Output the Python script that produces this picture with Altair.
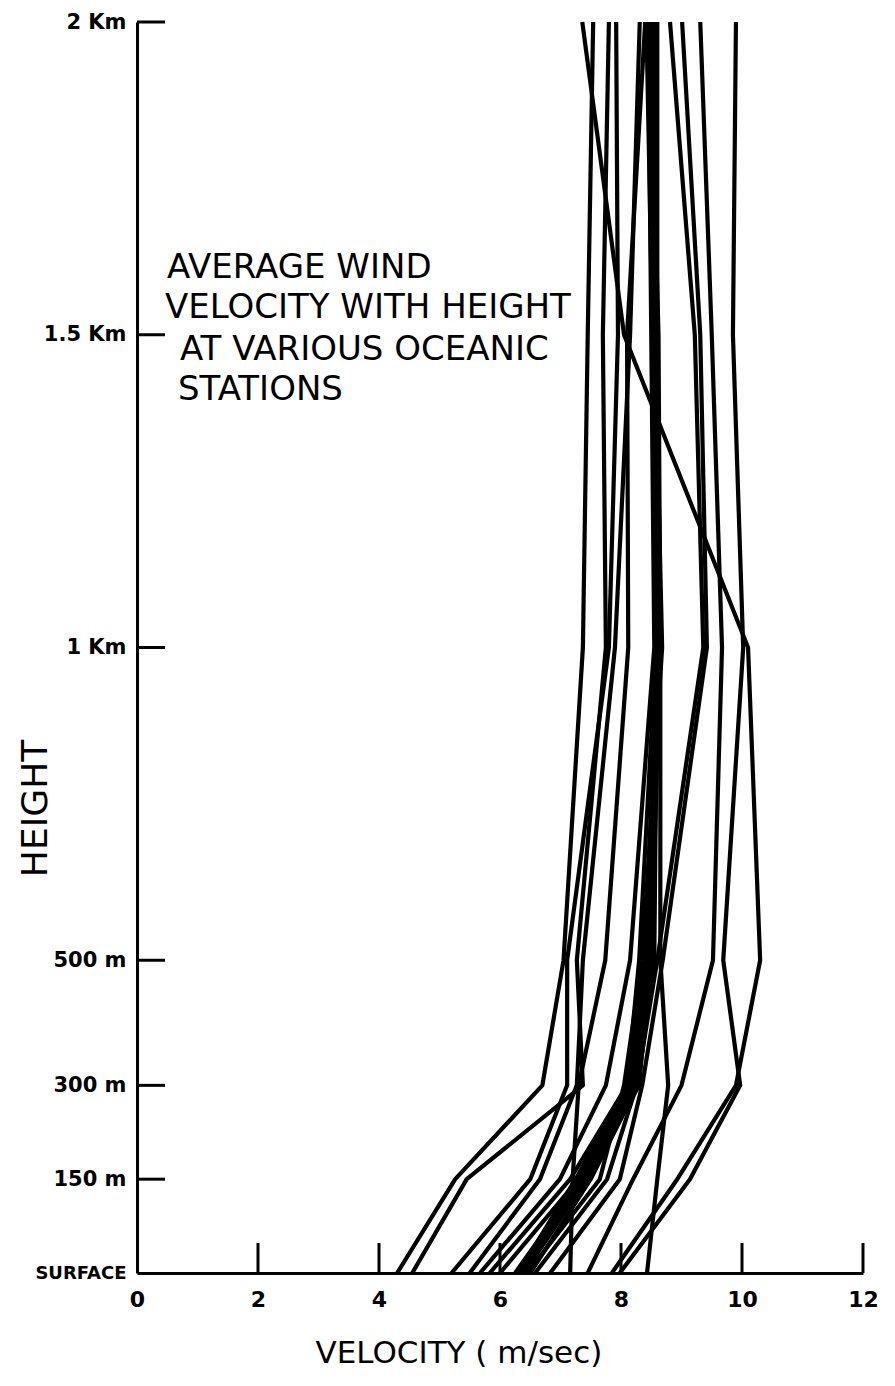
import altair as alt
import pandas as pd

# ---- data ----
heights = [0, 150, 300, 500, 1000, 1500, 2000]
height_labels = ["SURFACE", "150 m", "300 m", "500 m", "1 Km", "1.5 Km", "2 Km"]
velocity_ticks = [0, 2, 4, 6, 8, 10, 12]

# velocity (m/s) at heights 0,150,300,500,1000,1500,2000 m for each station
st01 = [4.30, 5.26, 6.70, 7.05, 7.37, 7.45, 7.54]
st02 = [4.55, 5.45, 7.37, 7.27, 7.75, 7.70, 7.80]
st03 = [5.20, 6.50, 7.11, 7.11, 7.80, 7.95, 7.92]
st04 = [5.50, 6.66, 7.27, 7.37, 7.90, 8.15, 8.31]
st05 = [7.16, 7.20, 7.30, 7.74, 8.12, 8.10, 8.40]
st06 = [5.67, 6.99, 7.75, 8.15, 8.55, 8.50, 8.45]
st07 = [5.83, 7.16, 8.10, 8.30, 8.58, 8.55, 8.50]
st08 = [6.00, 7.30, 8.15, 8.40, 8.60, 8.58, 8.55]
st09 = [6.25, 7.35, 8.20, 8.45, 8.62, 8.60, 8.60]
st10 = [6.33, 7.40, 8.25, 8.50, 8.65, 8.62, 8.48]
st11 = [6.40, 7.44, 8.30, 8.48, 8.58, 8.52, 8.42]
st12 = [6.45, 7.65, 8.05, 8.35, 8.68, 8.56, 8.52]
st13 = [6.58, 7.77, 8.26, 8.60, 9.36, 9.22, 8.81]
st14 = [6.83, 7.98, 8.35, 8.69, 9.42, 9.31, 9.01]
st15 = [8.43, 8.60, 8.78, 8.65, 8.65, 8.60, 8.55]
st16 = [7.85, 8.93, 9.90, 10.30, 10.10, 8.05, 7.36]
st17 = [7.98, 9.14, 9.97, 9.69, 10.02, 9.85, 9.90]
st18 = [7.45, 8.20, 9.00, 9.52, 9.67, 9.50, 9.31]
st19 = [6.30, 7.25, 8.10, 8.40, 8.62, 8.58, 8.50]
st20 = [6.50, 7.50, 8.28, 8.55, 8.60, 8.55, 8.45]

stations = [st01, st02, st03, st04, st05, st06, st07, st08, st09, st10,
            st11, st12, st13, st14, st15, st16, st17, st18, st19, st20]

title_lines = ["AVERAGE WIND", "VELOCITY WITH HEIGHT", "AT VARIOUS OCEANIC", "STATIONS"]

rows = []
for i, prof in enumerate(stations):
    for h, v in zip(heights, prof):
        rows.append({"station": f"S{i + 1:02d}", "height": h, "velocity": v})
df = pd.DataFrame(rows)

W, H = 726, 1251
x_scale = alt.Scale(domain=[0, 12], nice=False, zero=False)
y_scale = alt.Scale(domain=[0, 2000], nice=False, zero=False)

label_expr = " : ".join(
    f"datum.value == {h} ? '{lab}'" for h, lab in zip(heights, height_labels)
) + " : ''"

x_axis = alt.Axis(values=velocity_ticks, ticks=False, grid=False,
                  labelFont="DejaVu Sans", labelFontSize=22, labelFontWeight="bold",
                  labelColor="black", labelPadding=16, labelFlush=False,
                  labelOverlap=False, domainColor="black", domainWidth=3,
                  title="VELOCITY ( m/sec)", titleFont="DejaVu Sans",
                  titleFontSize=31, titleFontWeight="normal", titleColor="black",
                  titleX=178, titleY=89, titleAlign="left",
                  titleBaseline="alphabetic", titleAnchor="start")
y_axis = alt.Axis(values=heights, labelExpr=label_expr, ticks=False, grid=False,
                  labelFont="DejaVu Sans", labelFontWeight="bold",
                  labelFontSize={"condition": {"test": "datum.value == 0", "value": 18},
                                 "value": 21},
                  labelColor="black", labelPadding=11, labelFlush=False,
                  labelOverlap=False, domainColor="black", domainWidth=3,
                  title="HEIGHT", titleFont="DejaVu Sans", titleFontSize=36,
                  titleFontWeight="normal", titleColor="black",
                  titleX=-102, titleY=786, titleAngle=-90,
                  titleAlign="center", titleBaseline="middle")

lines = alt.Chart(df).mark_line(color="black", strokeWidth=4.2, strokeJoin="round").encode(
    x=alt.X("velocity:Q", scale=x_scale, axis=x_axis),
    y=alt.Y("height:Q", scale=y_scale, axis=y_axis),
    detail="station:N",
    order="height:Q",
)

ytick_df = pd.DataFrame({"height": heights[1:]})
yticks = alt.Chart(ytick_df).mark_rule(color="black", strokeWidth=3).encode(
    y=alt.Y("height:Q", scale=y_scale, axis=y_axis),
    x=alt.value(0), x2=alt.value(28),
)

xtick_df = pd.DataFrame({"velocity": velocity_ticks[1:]})
xticks = alt.Chart(xtick_df).mark_rule(color="black", strokeWidth=3).encode(
    x=alt.X("velocity:Q", scale=x_scale, axis=x_axis),
    y=alt.value(H), y2=alt.value(H - 30),
)

text_x = [30, 28, 43, 41]
text_y = [246, 286, 328, 368]
texts = []
for t, tx, ty in zip(title_lines, text_x, text_y):
    texts.append(
        alt.Chart(pd.DataFrame({"t": [t]})).mark_text(
            align="left", baseline="middle", font="DejaVu Sans", fontSize=34,
            color="black").encode(text="t:N", x=alt.value(tx), y=alt.value(ty))
    )

chart = alt.layer(lines, yticks, xticks, *texts).properties(
    width=W, height=H,
    autosize=alt.AutoSizeParams(type="none"),
    padding={"left": 129, "top": 14, "right": 20, "bottom": 100},
).configure(background="white").configure_view(stroke=None)

chart.save("out.html", embed_options={"renderer": "svg", "actions": False})
